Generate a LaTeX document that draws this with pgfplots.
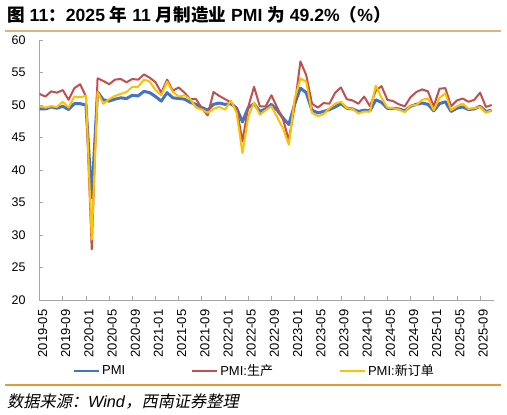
\documentclass[border=0pt]{standalone}
\usepackage{fontspec}
\usepackage{pgfplots}
\pgfplotsset{compat=1.18}
\setmainfont{Liberation Sans}
\newfontfamily\cjk{Noto Sans CJK SC}
\newfontfamily\cjki{Noto Sans CJK SC}[FakeSlant=0.2]
\definecolor{cBlue}{HTML}{4472C4}
\definecolor{cRed}{HTML}{C0504D}
\definecolor{cYel}{HTML}{FFC000}
\definecolor{ruleTop}{HTML}{DDB47E}
\definecolor{ruleBot}{HTML}{E39A3B}
\definecolor{axGray}{HTML}{A6A6A6}
\begin{document}
\begin{tikzpicture}
\useasboundingbox (0pt,0pt) rectangle (507pt,-415pt);
\node[anchor=base west, inner sep=0pt, font=\fontsize{17.6}{19}\selectfont\bfseries] at (7pt,-21.5pt)
 {{\cjk 图} 11{\cjk ：}2025 {\cjk 年} 11 {\cjk 月制造业} PMI {\cjk 为} 49.2\%{\cjk （}\%{\cjk ）}};
\draw[ruleTop, line width=1.2pt] (5pt,-31pt) -- (501pt,-31pt);
\draw[ruleBot, line width=1.2pt] (5pt,-385pt) -- (501pt,-385pt);
\node[anchor=base west, inner sep=0pt, font=\fontsize{16.2}{18}\selectfont] at (7pt,-407pt)
 {{\cjki 数据来源：}\textit{Wind}{\cjki ，西南证券整理}};
\begin{axis}[
  at={(39pt,-300pt)}, anchor=south west,
  scale only axis, width=455pt, height=260pt,
  xmin=-0.1, xmax=78.4, ymin=20, ymax=60,
  axis x line*=bottom, axis y line*=left,
  axis line style={draw=axGray, line width=1pt, -},
  tick align=inside, major tick length=4pt,
  tick style={draw=axGray, line width=0.8pt},
  ytick={20,25,30,35,40,45,50,55,60},
  xtick={0,4,...,76},
  xticklabels={2019-05,2019-09,2020-01,2020-05,2020-09,2021-01,2021-05,2021-09,2022-01,2022-05,2022-09,2023-01,2023-05,2023-09,2024-01,2024-05,2024-09,2025-01,2025-05,2025-09},
  tick label style={text=black},
  yticklabel style={font=\fontsize{12.5}{14}\selectfont, anchor=east, xshift=-10pt},
  xticklabel style={font=\fontsize{13}{15}\selectfont, yshift=-6pt, xshift=3pt, rotate=90, anchor=east},
  /pgf/number format/assume math mode=true,
  legend columns=3,
  legend style={at={(0.4736,-0.273)}, anchor=center, draw=none, fill=none,
    font=\fontsize{13}{15}\selectfont,
    /tikz/every even column/.append style={column sep=64pt}},
  legend image code/.code={\draw[#1, line width=2pt] (0pt,0pt) -- (25pt,0pt);},
]
\addplot[cBlue, line width=3pt, line join=round] coordinates {
(0,49.4)(1,49.4)(2,49.7)(3,49.5)(4,49.8)(5,49.3)(6,50.2)(7,50.2)
(8,50.0)(9,35.7)(10,52.0)(11,50.8)(12,50.6)(13,50.9)(14,51.1)(15,51.0)(16,51.5)(17,51.4)(18,52.1)(19,51.9)
(20,51.3)(21,50.6)(22,51.9)(23,51.1)(24,51.0)(25,50.9)(26,50.4)(27,50.1)(28,49.6)(29,49.2)(30,50.1)(31,50.3)
(32,50.1)(33,50.2)(34,49.5)(35,47.4)(36,49.6)(37,50.2)(38,49.0)(39,49.4)(40,50.1)(41,49.2)(42,48.0)(43,47.0)
(44,50.1)(45,52.6)(46,51.9)(47,49.2)(48,48.8)(49,49.0)(50,49.3)(51,49.7)(52,50.2)(53,49.5)(54,49.4)(55,49.0)
(56,49.2)(57,49.1)(58,50.8)(59,50.4)(60,49.5)(61,49.5)(62,49.4)(63,49.1)(64,49.8)(65,50.1)(66,50.3)(67,50.1)
(68,49.1)(69,50.2)(70,50.5)(71,49.0)(72,49.5)(73,49.7)(74,49.3)(75,49.4)(76,49.8)(77,49.0)(78,49.2)
};
\addlegendentry{PMI}
\addplot[cRed, line width=2pt, line join=round] coordinates {
(0,51.7)(1,51.3)(2,52.1)(3,51.9)(4,52.3)(5,50.8)(6,52.6)(7,53.2)
(8,51.3)(9,27.8)(10,54.1)(11,53.7)(12,53.2)(13,53.9)(14,54.0)(15,53.5)(16,54.0)(17,53.9)(18,54.7)(19,54.2)
(20,53.5)(21,51.9)(22,53.9)(23,52.2)(24,52.7)(25,51.9)(26,50.9)(27,50.9)(28,49.5)(29,48.4)(30,52.0)(31,51.4)
(32,50.9)(33,50.4)(34,49.5)(35,44.4)(36,49.7)(37,52.8)(38,49.8)(39,49.8)(40,51.5)(41,49.6)(42,47.8)(43,44.6)
(44,49.8)(45,56.7)(46,54.6)(47,50.2)(48,49.6)(49,50.3)(50,50.2)(51,51.9)(52,52.7)(53,50.9)(54,50.7)(55,50.2)
(56,51.3)(57,49.8)(58,52.2)(59,52.9)(60,50.8)(61,50.6)(62,50.1)(63,49.8)(64,51.2)(65,52.0)(66,52.4)(67,52.1)
(68,49.8)(69,52.5)(70,52.6)(71,49.8)(72,50.7)(73,51.0)(74,50.5)(75,50.8)(76,51.9)(77,49.7)(78,50.0)
};
\addlegendentry{PMI:{\cjk 生产}}
\addplot[cYel, line width=2pt, line join=round] coordinates {
(0,49.8)(1,49.6)(2,49.8)(3,49.7)(4,50.5)(5,49.6)(6,51.3)(7,51.2)
(8,51.4)(9,29.3)(10,52.0)(11,50.2)(12,50.9)(13,51.4)(14,51.7)(15,52.0)(16,52.8)(17,52.8)(18,53.9)(19,53.6)
(20,52.3)(21,51.5)(22,53.6)(23,52.0)(24,51.3)(25,51.5)(26,50.9)(27,49.6)(28,49.3)(29,48.8)(30,49.4)(31,49.7)
(32,49.3)(33,50.7)(34,48.8)(35,42.6)(36,48.2)(37,50.4)(38,48.5)(39,49.2)(40,49.8)(41,48.1)(42,46.4)(43,43.9)
(44,50.9)(45,54.1)(46,53.6)(47,48.8)(48,48.3)(49,48.6)(50,49.5)(51,50.2)(52,50.5)(53,49.5)(54,49.4)(55,48.7)
(56,49.0)(57,49.0)(58,53.0)(59,51.1)(60,49.6)(61,49.5)(62,49.3)(63,48.9)(64,49.9)(65,50.0)(66,50.8)(67,51.0)
(68,49.2)(69,51.1)(70,51.8)(71,49.2)(72,49.8)(73,50.2)(74,49.4)(75,49.5)(76,49.7)(77,48.8)(78,49.2)
};
\addlegendentry{PMI:{\cjk 新订单}}
\end{axis}
\end{tikzpicture}
\end{document}
